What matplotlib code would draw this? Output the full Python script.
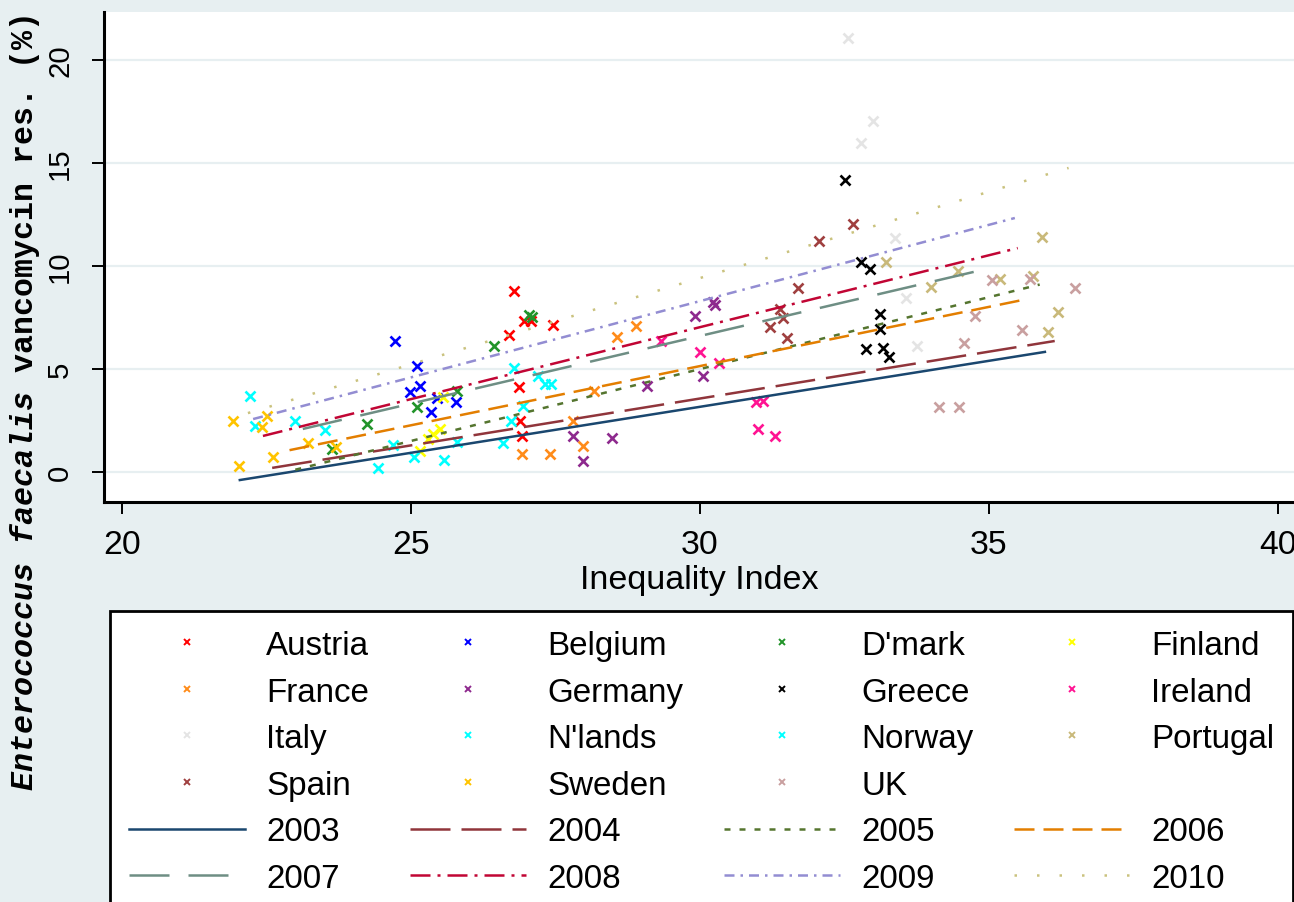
import matplotlib.pyplot as plt
from matplotlib.lines import Line2D
from matplotlib import font_manager
from matplotlib.font_manager import FontProperties
from matplotlib.textpath import TextPath

# ---------------- data ----------------
countries = ["Austria", "Belgium", "D'mark", "Finland", "France", "Germany",
             "Greece", "Ireland", "Italy", "N'lands", "Norway", "Portugal",
             "Spain", "Sweden", "UK"]
colors = ["#FF0000", "#0000FF", "#22942A", "#FFFF00", "#FF8C1A", "#8E2A8E",
          "#000000", "#FF1493", "#E4E4E4", "#00FFFF", "#00FFFF", "#C9B97A",
          "#A04040", "#FFC400", "#C9A0A0"]

austria_x = [26.78, 26.96, 26.70, 27.46, 26.87, 26.89, 26.92, 27.08]
austria_y = [8.79, 7.33, 6.65, 7.14, 4.13, 2.48, 1.75, 7.33]
belgium_x = [24.72, 25.10, 24.98, 25.16, 25.45, 25.78, 25.35]
belgium_y = [6.36, 5.15, 3.88, 4.17, 3.59, 3.40, 2.91]
dmark_x = [23.63, 24.24, 25.10, 25.80, 26.44, 27.09, 27.05]
dmark_y = [1.12, 2.33, 3.16, 3.93, 6.12, 7.52, 7.60]
finland_x = [25.16, 25.29, 25.38, 25.50, 25.55]
finland_y = [1.02, 1.60, 1.84, 2.09, 3.64]
france_x = [26.92, 27.40, 27.98, 27.80, 28.56, 28.89, 28.17]
france_y = [0.87, 0.87, 1.26, 2.48, 6.55, 7.09, 3.91]
germany_x = [27.80, 27.98, 28.48, 29.08, 29.91, 30.05, 30.22, 30.27]
germany_y = [1.75, 0.53, 1.65, 4.17, 7.57, 4.66, 8.25, 8.10]
greece_x = [32.51, 32.79, 32.94, 33.11, 33.11, 32.87, 33.17, 33.27]
greece_y = [14.17, 10.19, 9.85, 7.67, 6.94, 5.97, 6.02, 5.58]
ireland_x = [29.33, 30.00, 30.33, 30.97, 31.09, 31.00, 31.30]
ireland_y = [6.36, 5.83, 5.29, 3.40, 3.45, 2.09, 1.75]
italy_x = [32.56, 32.99, 32.79, 33.37, 33.56, 33.75]
italy_y = [21.07, 17.04, 15.97, 11.36, 8.45, 6.12]
nlands_x = [25.80, 26.59, 26.73, 26.94, 26.78, 27.20, 27.32, 27.42]
nlands_y = [1.46, 1.41, 2.48, 3.20, 5.05, 4.66, 4.27, 4.27]
norway_x = [22.21, 22.30, 22.99, 23.51, 24.43, 24.69, 25.05, 25.57]
norway_y = [3.69, 2.23, 2.48, 2.04, 0.19, 1.31, 0.73, 0.58]
portugal_x = [35.92, 33.22, 34.46, 34.00, 35.19, 35.76, 36.19, 36.02]
portugal_y = [11.41, 10.19, 9.76, 8.98, 9.37, 9.51, 7.77, 6.80]
spain_x = [32.65, 32.06, 31.70, 31.38, 31.21, 31.51, 31.44]
spain_y = [12.04, 11.21, 8.93, 7.91, 7.04, 6.50, 7.48]
sweden_x = [21.92, 22.51, 22.42, 22.02, 22.61, 23.22, 23.70]
sweden_y = [2.48, 2.72, 2.18, 0.29, 0.73, 1.41, 1.21]
uk_x = [36.49, 35.05, 35.71, 34.76, 35.57, 34.57, 34.13, 34.48]
uk_y = [8.93, 9.32, 9.37, 7.57, 6.89, 6.26, 3.16, 3.16]

country_x = [austria_x, belgium_x, dmark_x, finland_x, france_x, germany_x,
             greece_x, ireland_x, italy_x, nlands_x, norway_x, portugal_x,
             spain_x, sweden_x, uk_x]
country_y = [austria_y, belgium_y, dmark_y, finland_y, france_y, germany_y,
             greece_y, ireland_y, italy_y, nlands_y, norway_y, portugal_y,
             spain_y, sweden_y, uk_y]

# fitted line per year, start and end points
years = ["2003", "2004", "2005", "2006", "2007", "2008", "2009", "2010"]
fit_x0 = [22.04, 22.60, 23.00, 22.90, 23.13, 22.44, 22.27, 22.18]
fit_y0 = [-0.39, 0.20, 0.11, 1.06, 2.09, 1.75, 2.57, 2.86]
fit_x1 = [35.97, 36.14, 35.88, 35.67, 34.81, 35.50, 35.45, 36.38]
fit_y1 = [5.83, 6.36, 9.10, 8.40, 9.76, 10.87, 12.33, 14.76]
year_colors = ["#1A476F", "#90353B", "#55752F", "#E37E00", "#6E8E84",
               "#C10534", "#938DD2", "#CAC27E"]
year_styles = ["-", (0, (16, 4.4)), (0, (2.4, 3.6)), (0, (8, 3.6)),
               (0, (16, 7.6)), (0, (8, 2.8, 1.2, 2.8)), (0, (4, 2.4, 1, 2.4)),
               (0, (1, 8))]

# ---------------- fonts ----------------
installed = {f.name for f in font_manager.fontManager.ttflist}
sans = next(f for f in ["Liberation Sans Narrow", "Arial Narrow",
                        "Liberation Sans", "DejaVu Sans"] if f in installed)


def fit_size(text, width_px):
    # font size (pt) so that the ink width of text is width_px at 100 dpi
    w = TextPath((0, 0), text, size=100,
                 prop=FontProperties(family=sans)).get_extents().width
    return width_px * 72 / w


leg_size = fit_size("Austria", 103)
xt_size = fit_size("30", 35)
yt_size = fit_size("20", 30)
xl_size = fit_size("Inequality Index", 235)
em = leg_size * 100 / 72

# ---------------- figure ----------------
bg = "#E7EFF1"
W, H = 1294, 903

fig = plt.figure(figsize=(W / 100, H / 100), dpi=100, facecolor=bg)
ax = fig.add_axes([104 / W, 1 - 503 / H, (W - 104) / W, (503 - 13) / H])
ax.set_facecolor("white")

for xs, ys, c in zip(country_x, country_y, colors):
    ax.plot(xs, ys, linestyle="none", marker="x", color=c, markersize=7.5,
            markeredgewidth=1.9, zorder=3)

for i in range(len(years)):
    ax.plot([fit_x0[i], fit_x1[i]], [fit_y0[i], fit_y1[i]],
            color=year_colors[i], linestyle=year_styles[i], linewidth=1.8,
            dash_capstyle="butt", zorder=4)

ax.set_xlim(19.69, 40.28)
ax.set_ylim(-1.456, 22.33)
ax.set_xticks([20, 25, 30, 35, 40])
ax.set_yticks([0, 5, 10, 15, 20])
ax.grid(axis="y", color=bg, linewidth=1.6, zorder=0)
ax.set_axisbelow(True)

for s in ["top", "right"]:
    ax.spines[s].set_visible(False)
for s in ["left", "bottom"]:
    ax.spines[s].set_linewidth(2.2)

ax.tick_params(axis="both", direction="out", length=8.5, width=1.4)
ax.tick_params(axis="y", pad=13)
ax.tick_params(axis="x", pad=11)
for lab in ax.get_xticklabels():
    lab.set_family(sans)
    lab.set_fontsize(xt_size)
for lab in ax.get_yticklabels():
    lab.set_family(sans)
    lab.set_fontsize(yt_size)
    lab.set_rotation(90)
    lab.set_verticalalignment("center")

ax.set_xlabel("Inequality Index", family=sans, fontsize=xl_size, labelpad=3)

# y label: italic species name + upright rest, monospace
mono_size = 22.8
fig.text(25 / W, 1 - 790 / H, "Enterococcus faecalis", rotation=90,
         family="Liberation Mono", style="italic", weight="bold",
         fontsize=mono_size, ha="center", va="bottom")
fig.text(25 / W, 1 - 372 / H, "vancomycin res. (%)", rotation=90,
         family="Liberation Mono", weight="bold",
         fontsize=mono_size, ha="center", va="bottom")

# ---------------- legend (row-major, 4 columns) ----------------
entries = []
for name, c in zip(countries, colors):
    entries.append((Line2D([], [], linestyle="none", marker="x", color=c,
                           markersize=5, markeredgewidth=1.4), name))
entries.append((Line2D([], [], linestyle="none"), ""))
for i in range(len(years)):
    entries.append((Line2D([], [], color=year_colors[i],
                           linestyle=year_styles[i], linewidth=1.8,
                           dash_capstyle="butt"), years[i]))

ncol = 4
nrow = len(entries) // ncol
ordered = [entries[r * ncol + c] for c in range(ncol) for r in range(nrow)]
leg = fig.legend([e[0] for e in ordered], [e[1] for e in ordered],
                 loc="upper left", bbox_to_anchor=(110 / W, 1 - 612 / H),
                 bbox_transform=fig.transFigure, ncol=ncol,
                 prop={"family": sans, "size": leg_size},
                 handlelength=116 / em, handletextpad=21 / em,
                 columnspacing=41 / em,
                 labelspacing=(47 - 0.95 * em) / em, borderpad=19 / em,
                 borderaxespad=0, frameon=True, fancybox=False, framealpha=1)
leg.get_frame().set_edgecolor("black")
leg.get_frame().set_linewidth(2)
leg.get_frame().set_facecolor("white")

fig.savefig("out.png", dpi=100, facecolor=bg)
